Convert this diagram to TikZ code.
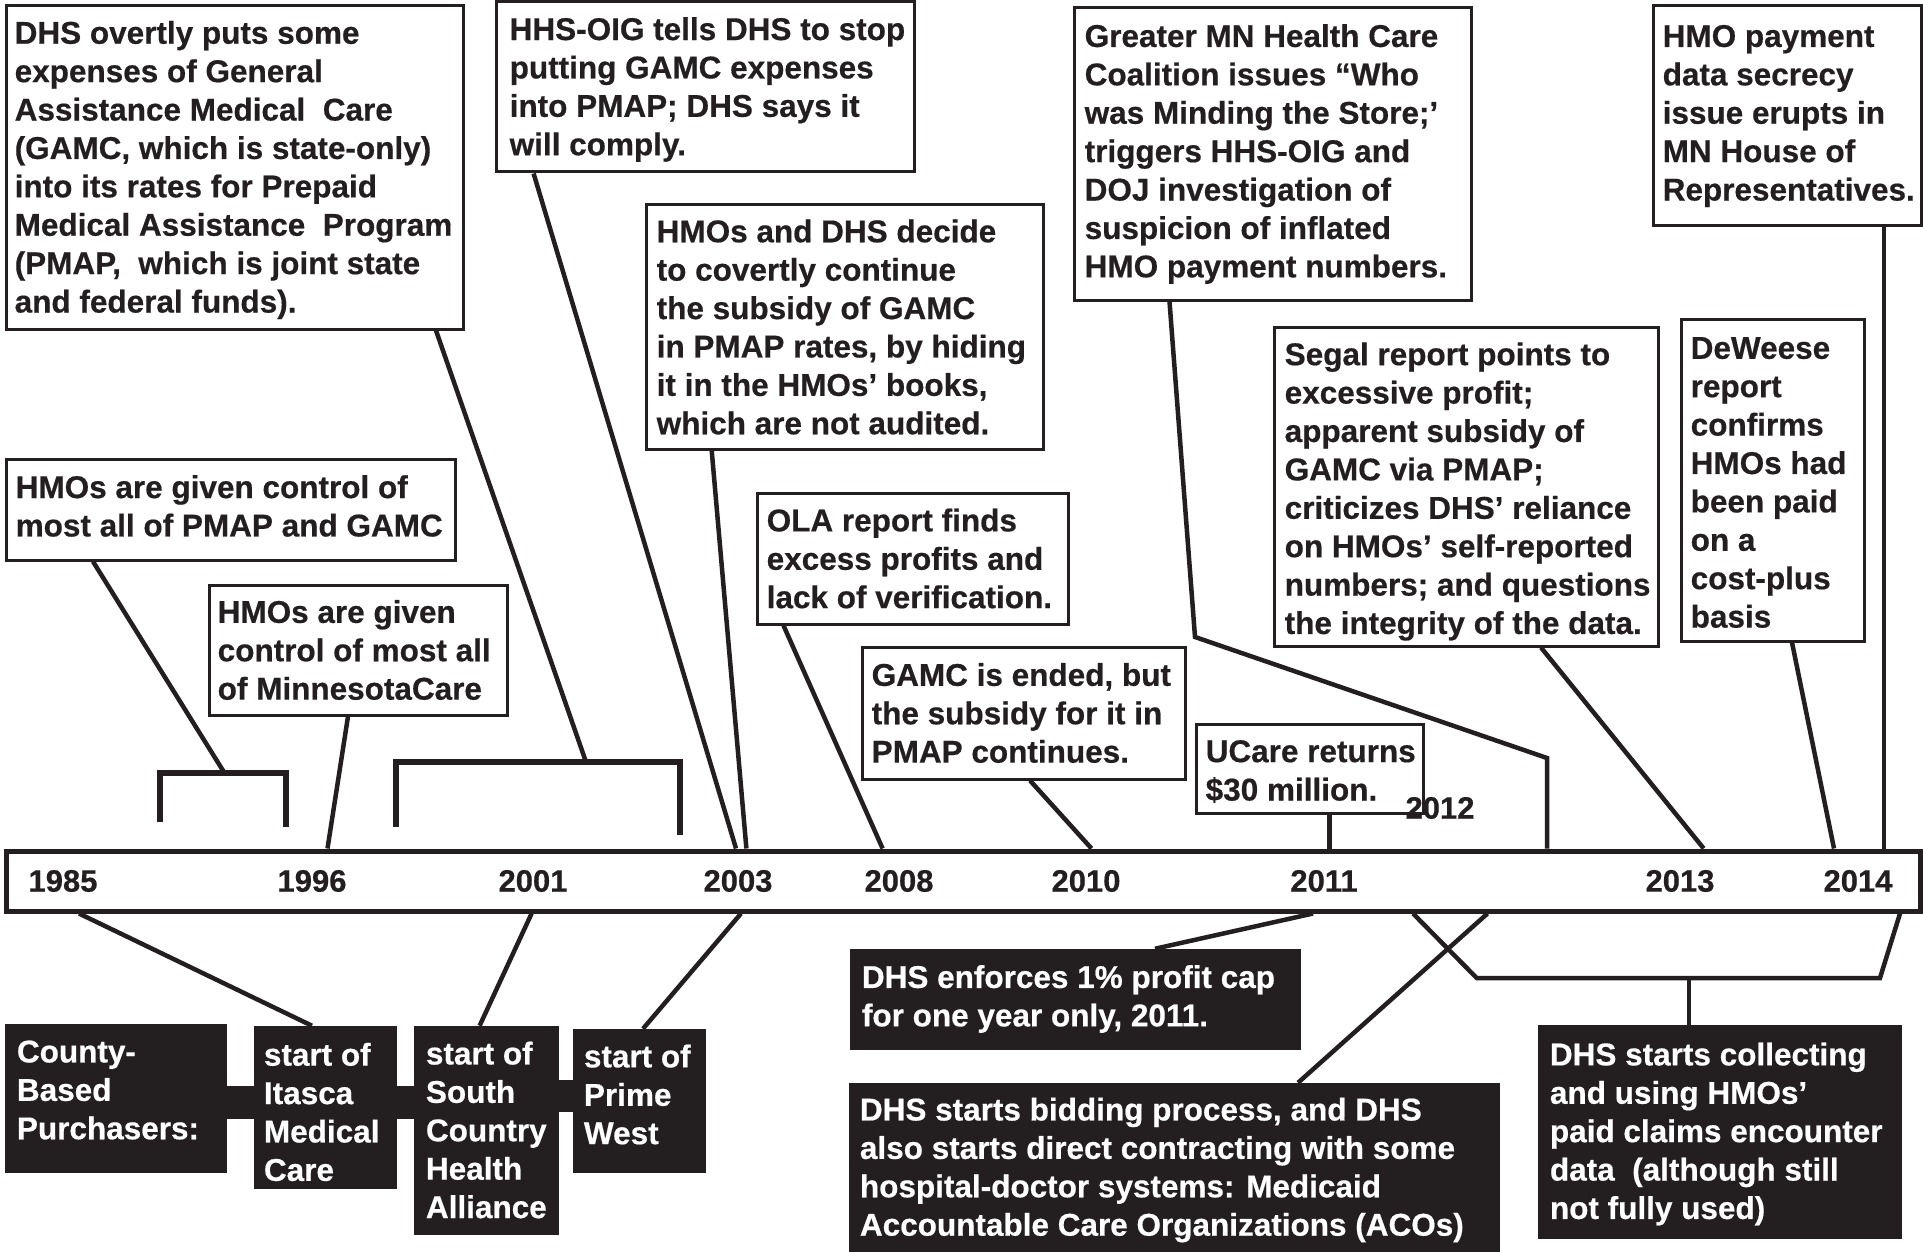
\documentclass[tikz,border=0pt]{standalone}
\usepackage{fontspec}
\setmainfont{Liberation Sans}[BoldFeatures={FakeBold=0.5}]
\definecolor{ink}{HTML}{231F20}
\begin{document}
\begin{tikzpicture}[x=1pt,y=-1pt,
  wbox/.style={draw=ink, line width=3pt, fill=white, inner sep=0pt},
  bbox/.style={fill=ink, draw=ink, line width=0.5pt, inner sep=0pt},
  wtxt/.style={font=\fontsize{31.5}{38.4}\selectfont\bfseries, text=ink, align=left, inner sep=0pt, anchor=west},
  btxt/.style={wtxt, text=white},
  yr/.style={font=\fontsize{31}{36}\selectfont\bfseries, text=ink, inner sep=0pt},
  ln/.style={draw=ink, line width=4.5pt},
  brk/.style={draw=ink, line width=5.5pt},
  link/.style={draw=ink, line width=33pt}
]
\fill[white] (0,0) rectangle (1923,1252);
\useasboundingbox (0,0) rectangle (1923,1252);

% ---------- timeline bar ----------
\node[draw=ink, line width=5pt, fill=white, inner sep=0pt, minimum width=1914pt, minimum height=60pt] (bar) at (963,881) {};
\node[yr] (y1985) at (63,881) {1985};
\node[yr] (y1996) at (312,881) {1996};
\node[yr] (y2001) at (533,881) {2001};
\node[yr] (y2003) at (738,881) {2003};
\node[yr] (y2008) at (899,881) {2008};
\node[yr] (y2010) at (1086,881) {2010};
\node[yr] (y2011) at (1324,881) {2011};
\node[yr] (y2013) at (1680,881) {2013};
\node[yr] (y2014) at (1858,881) {2014};

% ---------- white boxes above ----------
\node[wbox, minimum width=457pt, minimum height=323pt] (A) at (234.5,167.5) {};
\node[wtxt] (At) at ([xshift=10pt,yshift=-2.5pt]A.west) {DHS overtly puts some\\expenses of General\\Assistance Medical\ \ Care\\(GAMC, which is state-only)\\into its rates for Prepaid\\Medical Assistance\ \ Program\\(PMAP,\ \ which is joint state\\and federal funds).};

\node[wbox, minimum width=418pt, minimum height=170pt] (B) at (705,87) {};
\node[wtxt] (Bt) at ([xshift=15pt,yshift=-2.5pt]B.west) {HHS-OIG tells DHS to stop\\putting GAMC expenses\\into PMAP; DHS says it\\will comply.};

\node[wbox, minimum width=397pt, minimum height=244pt] (C) at (844.5,327) {};
\node[wtxt] (Ct) at ([xshift=12pt]C.west) {HMOs and DHS decide\\to covertly continue\\the subsidy of GAMC\\in PMAP rates, by hiding\\it in the HMOs’ books,\\which are not audited.};

\node[wbox, minimum width=397pt, minimum height=292pt] (D) at (1272.5,154) {};
\node[wtxt] (Dt) at ([xshift=12pt]D.west) {Greater MN Health Care\\Coalition issues “Who\\was Minding the Store;’\\triggers HHS-OIG and\\DOJ investigation of\\suspicion of inflated\\HMO payment numbers.};

\node[wbox, minimum width=268pt, minimum height=220pt] (E) at (1787,116) {};
\node[wtxt] (Et) at ([xshift=11pt]E.west) {HMO payment\\data secrecy\\issue erupts in\\MN House of\\Representatives.};

\node[wbox, minimum width=384pt, minimum height=319pt] (F) at (1466,486.5) {};
\node[wtxt] (Ft) at ([xshift=12pt,yshift=-5pt]F.west) {Segal report points to\\excessive profit;\\apparent subsidy of\\GAMC via PMAP;\\criticizes DHS’ reliance\\on HMOs’ self-reported\\numbers; and questions\\the integrity of the data.};

\node[wbox, minimum width=183pt, minimum height=322pt] (G) at (1772.5,480) {};
\node[wtxt] (Gt) at ([xshift=11pt,yshift=-2.5pt]G.west) {DeWeese\\report\\confirms\\HMOs had\\been paid\\on a\\cost-plus\\basis};

\node[wbox, minimum width=449pt, minimum height=101pt] (H) at (230.5,509.5) {};
\node[wtxt] (Ht) at ([xshift=11pt,yshift=3.5pt]H.west) {HMOs are given control of\\most all of PMAP and GAMC};

\node[wbox, minimum width=298pt, minimum height=130pt] (I) at (358,650) {};
\node[wtxt] (It) at ([xshift=10pt]I.west) {HMOs are given\\control of most all\\of MinnesotaCare};

\node[wbox, minimum width=311pt, minimum height=131pt] (J) at (912.5,558.5) {};
\node[wtxt] (Jt) at ([xshift=11pt]J.west) {OLA report finds\\excess profits and\\lack of verification.};

\node[wbox, minimum width=323pt, minimum height=132pt] (K) at (1023.5,713) {};
\node[wtxt] (Kt) at ([xshift=11pt]K.west) {GAMC is ended, but\\the subsidy for it in\\PMAP continues.};

\node[wbox, minimum width=227pt, minimum height=89pt] (L) at (1309.5,768.5) {};
\node[wtxt] (Lt) at ([xshift=11pt,yshift=-3pt]L.west) {UCare returns\\\$30 million.};

\node[yr] (y2012) at (1440,808) {2012};

% ---------- brackets ----------
\coordinate (br1) at (224.5,773);
\coordinate (br2) at (586,762);
\draw[brk] (160,822) -- (160,773) -- (286,773) -- (286,827);
\draw[brk] (396,827) -- (396,762) -- (680,762) -- (680,835);

% ---------- connectors above ----------
\draw[ln] ([xshift=-137.5pt]H.south) -- (br1);
\draw[ln] ([xshift=201.5pt]A.south) -- (br2);
\draw[ln] ([xshift=-10pt]I.south) -- (bar.north -| 327.5,0);
\draw[ln] ([xshift=-171.4pt]B.south) -- (bar.north -| 736,0);
\draw[ln] ([xshift=-132.8pt]C.south) -- (bar.north -| 746.4,0);
\draw[ln] ([xshift=-129pt]J.south) -- (bar.north -| 882.6,0);
\draw[ln] ([xshift=6.5pt]K.south) -- (bar.north -| 1091.5,0);
\draw[ln] ([xshift=20pt]L.south) -- (bar.north -| 1329.5,0);
\draw[ln] ([xshift=-103pt]D.south) -- (1195,637) -- (1547,758) -- (bar.north -| 1547,0);
\draw[ln] ([xshift=75pt]F.south) -- (bar.north -| 1703.7,0);
\draw[ln] ([xshift=19.5pt]G.south) -- (bar.north -| 1834,0);
\draw[ln] ([xshift=97pt]E.south) -- (bar.north -| 1884,0);

% ---------- black boxes below ----------
\node[bbox, minimum width=221pt, minimum height=148pt] (M) at (115.5,1098) {};
\node[btxt] (Mt) at ([xshift=12pt,yshift=8pt]M.west) {County-\\Based\\Purchasers:};
\node[bbox, minimum width=142pt, minimum height=162pt] (N) at (325,1107) {};
\node[btxt] (Nt) at ([xshift=10pt,yshift=-5pt]N.west) {start of\\Itasca\\Medical\\Care};
\node[bbox, minimum width=144pt, minimum height=208pt] (O) at (486,1130) {};
\node[btxt] (Ot) at ([xshift=12pt]O.west) {start of\\South\\Country\\Health\\Alliance};
\node[bbox, minimum width=132pt, minimum height=143pt] (P) at (639,1100.5) {};
\node[btxt] (Pt) at ([xshift=11pt,yshift=6pt]P.west) {start of\\Prime\\West};

\coordinate (mn) at (0,1102.5);
\coordinate (op) at (0,1096);
\draw[link] (M.east |- mn) -- (N.west |- mn);
\draw[link] (N.east |- mn) -- (O.west |- mn);
\draw[link, line width=32pt] (O.east |- op) -- (P.west |- op);

\node[bbox, minimum width=450pt, minimum height=100pt] (Q) at (1075,999) {};
\node[btxt] (Qt) at ([xshift=12pt]Q.west) {DHS enforces 1\% profit cap\\for one year only, 2011.};

\node[bbox, minimum width=650pt, minimum height=172pt] (R) at (1174,1169) {};
\node[btxt] (Rt) at ([xshift=11pt,yshift=-1pt]R.west) {DHS starts bidding process, and DHS\\also starts direct contracting with some\\hospital-doctor systems: Medicaid\\Accountable Care Organizations (ACOs)};

\node[bbox, minimum width=363pt, minimum height=213pt] (S) at (1719.5,1131.5) {};
\node[btxt] (St) at ([xshift=12pt,yshift=-2.5pt]S.west) {DHS starts collecting\\and using HMOs’\\paid claims encounter\\data\ \ (although still\\not fully used)};

% ---------- connectors below ----------
\draw[ln] (bar.south -| 79,0) -- ([xshift=-13pt]N.north);
\draw[ln] (bar.south -| 531.6,0) -- ([xshift=-6.4pt]O.north);
\draw[ln] (bar.south -| 741,0) -- ([xshift=4pt]P.north);
\draw[ln] (bar.south -| 1313,0) -- ([xshift=80pt]Q.north);
\draw[ln] (bar.south -| 1487.5,0) -- ([xshift=124pt]R.north);
\coordinate (sj) at (1689,978);
\draw[ln] (bar.south -| 1413,0) -- (1476.7,978) -- (1880,978) -- (bar.south -| 1900,0);
\draw[ln] (sj) -- ([xshift=-30.5pt]S.north);
\end{tikzpicture}
\end{document}
